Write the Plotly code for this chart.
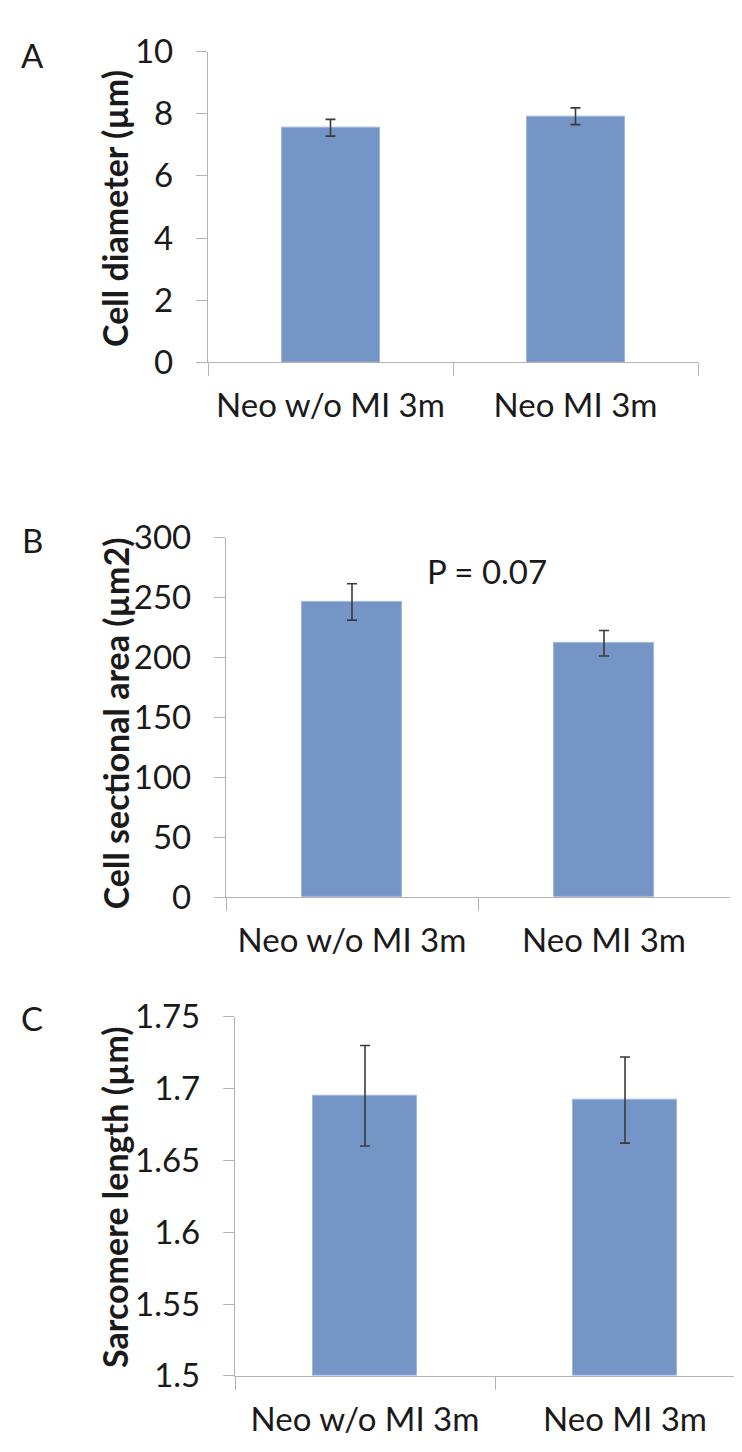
import plotly.graph_objects as go

# ---- data ----
categories = ["Neo w/o MI 3m", "Neo MI 3m"]

diameter = [7.55, 7.92]
diameter_err = [0.27, 0.27]
diameter_ticks = [0, 2, 4, 6, 8, 10]

area = [246.5, 212.0]
area_err = [15.2, 10.7]
area_ticks = [0, 50, 100, 150, 200, 250, 300]

sarcomere = [1.695, 1.692]
sarcomere_err = [0.035, 0.030]
sarcomere_ticks = [1.5, 1.55, 1.6, 1.65, 1.7, 1.75]
sarcomere_ticktext = ["1.5", "1.55", "1.6", "1.65", "1.7", "1.75"]

y_titles = ["Cell diameter (µm)", "Cell sectional area (µm2)", "Sarcomere length (µm)"]
panel_letters = ["A", "B", "C"]
p_text = "P = 0.07"

# ---- style ----
W, H = 742, 1452
FONT = "Lato, 'Liberation Sans', sans-serif"
TXT = "#1a1a1a"
AXC = "#b9b1b1"
BAR = "#7495c5"
ERR = "#3a3a3a"
TICK_SIZE = 33
TITLE_SIZE = 34


def px_x(p):
    return p / W


def px_y(p):
    return 1 - p / H


fig = go.Figure()

panels = [
    dict(vals=diameter, err=diameter_err, x0=200, x1=690, ytop=23.3, ybot=342.7,
         yr=[0, 10], tv=diameter_ticks, tt=[str(v) for v in diameter_ticks], xr=[-0.5, 1.5]),
    dict(vals=area, err=area_err, x0=218, x1=722, ytop=523.3, ybot=892.7,
         yr=[0, 300], tv=area_ticks, tt=[str(v) for v in area_ticks], xr=[-0.5, 1.5]),
    dict(vals=sarcomere, err=sarcomere_err, x0=227, x1=742, ytop=1015.7, ybot=1385,
         yr=[1.5, 1.75], tv=sarcomere_ticks, tt=sarcomere_ticktext, xr=[-0.5, 1.5 - 5 / 260]),
]

for i, p in enumerate(panels):
    n = "" if i == 0 else str(i + 1)
    fig.add_trace(go.Bar(
        x=categories, y=p["vals"], width=0.4,
        base=p["yr"][0] if i == 2 else None,
        marker=dict(color=BAR, line=dict(color="#9fb6dc", width=1)),
        error_y=dict(type="data", array=p["err"], visible=True, color=ERR,
                     thickness=1.6, width=5),
        xaxis="x" + n, yaxis="y" + n, showlegend=False, hoverinfo="skip",
    ))
    if i == 2:
        # bars drawn from the axis floor
        fig.data[-1].y = [v - p["yr"][0] for v in p["vals"]]
    fig.update_layout(**{
        "xaxis" + n: dict(
            domain=[px_x(p["x0"]), px_x(p["x1"])], anchor="y" + n,
            range=p["xr"], type="category",
            showline=True, linecolor=AXC, linewidth=1.3,
            ticks="outside", tickson="boundaries", ticklen=13, tickcolor=AXC, tickwidth=1.3,
            showgrid=False, zeroline=False,
            tickfont=dict(family=FONT, size=TICK_SIZE, color=TXT),
            ticklabelstandoff=14, fixedrange=True,
        ),
        "yaxis" + n: dict(
            domain=[px_y(p["ybot"]), px_y(p["ytop"])], anchor="x" + n,
            range=p["yr"], tickvals=p["tv"], ticktext=p["tt"],
            showline=True, linecolor=AXC, linewidth=1.3,
            ticks="outside", ticklen=11, tickcolor=AXC, tickwidth=1.3,
            showgrid=False, zeroline=False,
            tickfont=dict(family=FONT, size=TICK_SIZE, color=TXT),
            ticklabelstandoff=16, fixedrange=True,
        ),
    })

annotations = []
letter_pos = [(24, 27), (25, 525), (24, 1017)]
for L, (lx, ly) in zip(panel_letters, letter_pos):
    annotations.append(dict(text=L, x=px_x(lx), y=px_y(ly), xref="paper", yref="paper",
                            showarrow=False, xanchor="center", yanchor="middle",
                            font=dict(family=FONT, size=33, color=TXT)))

title_pos = [(107, 184), (107, 714), (107, 1201)]
for t, (tx, ty) in zip(y_titles, title_pos):
    annotations.append(dict(text="<b>" + t + "</b>", x=px_x(tx), y=px_y(ty),
                            xref="paper", yref="paper", textangle=-90,
                            showarrow=False, xanchor="center", yanchor="middle",
                            font=dict(family=FONT, size=TITLE_SIZE, color=TXT)))

annotations.append(dict(text=p_text, x=px_x(479), y=px_y(557), xref="paper", yref="paper",
                        showarrow=False, xanchor="center", yanchor="middle",
                        font=dict(family=FONT, size=TICK_SIZE, color=TXT)))

fig.update_layout(
    width=W, height=H, margin=dict(l=0, r=0, t=0, b=0),
    paper_bgcolor="white", plot_bgcolor="white",
    annotations=annotations, bargap=0,
)

fig.write_html("out.html", config={"displayModeBar": False})
